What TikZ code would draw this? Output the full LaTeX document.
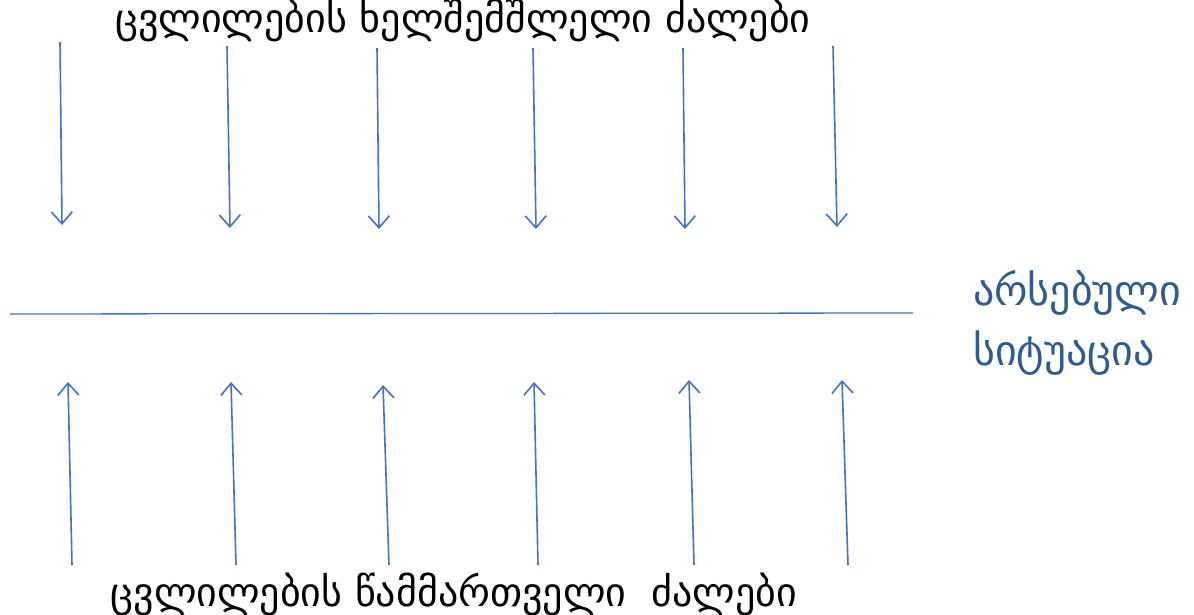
\documentclass[tikz,border=0pt]{standalone}
\usepackage{fontspec}
\setmainfont{DejaVu Sans}
\usetikzlibrary{arrows.meta}
\definecolor{arrowblue}{HTML}{4472C4}
\definecolor{labelblue}{HTML}{2F5C8F}
\tikzset{
  force/.style={draw=arrowblue, line width=1.6pt, -{Straight Barb[length=12pt,width=21pt,line width=1.6pt]}},
  baseline line/.style={draw=arrowblue, line width=1.3pt},
  title/.style={font=\fontsize{40}{48}\selectfont, text=black, inner sep=0pt},
  state/.style={font=\fontsize{42}{50}\selectfont, text=labelblue, inner sep=0pt, anchor=west}
}
\begin{document}
\begin{tikzpicture}[x=1pt,y=-1pt]
  \useasboundingbox (0,0) rectangle (1194,615);
  % restraining forces, pushing down
  \foreach \i/\xa/\ya/\xb/\yb in {1/60/42/62/225, 2/227/46/230/228, 3/377/48/379/229,
                                  4/533/48/536/229, 5/683/48/685/229, 6/833/46/837/227} {
    \coordinate (r\i s) at (\xa,\ya);
    \coordinate (r\i e) at (\xb,\yb);
    \draw[force] (r\i s) -- (r\i e);
  }
  % driving forces, pushing up
  \foreach \i/\xa/\ya/\xb/\yb in {1/72/565/68/382, 2/236/565/231/382, 3/389/565/383/385,
                                  4/538/565/534/382, 5/694/565/689/380, 6/848/565/842/380} {
    \coordinate (d\i s) at (\xa,\ya);
    \coordinate (d\i e) at (\xb,\yb);
    \draw[force] (d\i s) -- (d\i e);
  }
  % current state line
  \coordinate (l0) at (10,314);
  \coordinate (l1) at (913,313);
  \draw[baseline line] (l0) -- (l1);
  \node[title] (top) at (463,20) {ცვლილების ხელშემშლელი ძალები};
  \node[title] (bottom) at (454,594) {ცვლილების წამმართველი\ \ ძალები};
  \node[state] (cur1) at (973,293) {არსებული};
  \node[state] (cur2) at (973,353) {სიტუაცია};
\end{tikzpicture}
\end{document}
